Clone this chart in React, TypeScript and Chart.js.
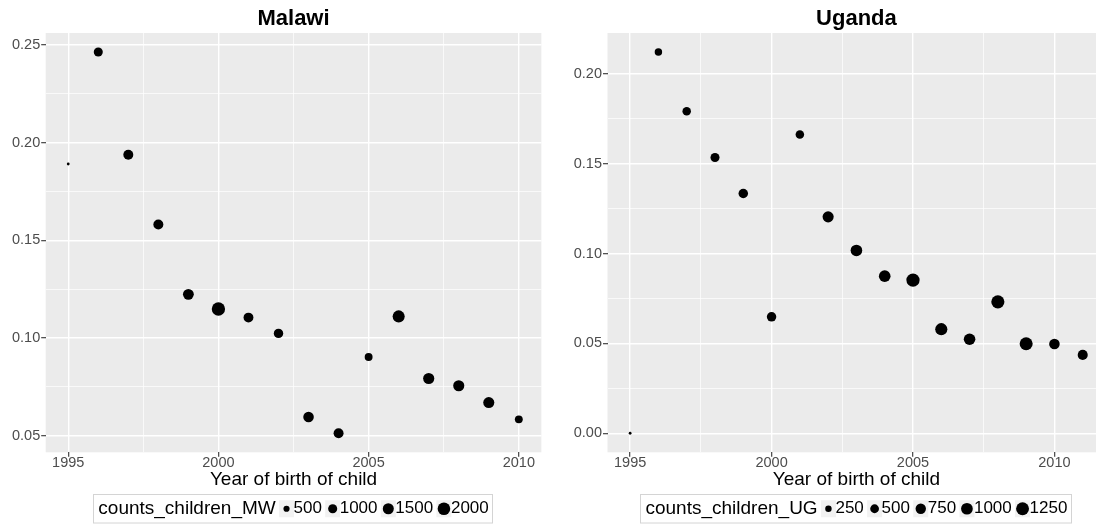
import React, { useEffect, useRef } from "react";
import { Chart, registerables } from "chart.js";

Chart.register(...registerables);

const FONT = '"Liberation Sans", Arial, Helvetica, sans-serif';

// ---------------- Data ----------------
const MW_TITLE = "Malawi";
const MW_YEARS = [1995, 1996, 1997, 1998, 1999, 2000, 2001, 2002, 2003, 2004, 2005, 2006, 2007, 2008, 2009, 2010];
const MW_RATE = [0.189, 0.2463, 0.1937, 0.158, 0.1223, 0.1148, 0.1104, 0.1023, 0.0595, 0.0512, 0.0902, 0.111, 0.0792, 0.0755, 0.0669, 0.0583];
const MW_COUNTS = [300, 990, 1210, 1220, 1440, 2250, 1190, 1080, 1360, 1210, 760, 1820, 1530, 1520, 1510, 760];
const MW_LEGEND_TITLE = "counts_children_MW";
const MW_LEGEND_BREAKS = [500, 1000, 1500, 2000];
const MW_Y_TICKS = [0.05, 0.1, 0.15, 0.2, 0.25];

const UG_TITLE = "Uganda";
const UG_YEARS = [1995, 1996, 1997, 1998, 1999, 2000, 2001, 2002, 2003, 2004, 2005, 2006, 2007, 2008, 2009, 2010, 2011];
const UG_RATE = [0.0, 0.2121, 0.1792, 0.1534, 0.1334, 0.0648, 0.1662, 0.1204, 0.1017, 0.0874, 0.0852, 0.0579, 0.0523, 0.0731, 0.0498, 0.0497, 0.0436];
const UG_COUNTS = [100, 342, 462, 539, 607, 600, 470, 879, 970, 980, 1340, 1086, 960, 1300, 1280, 777, 697];
const UG_LEGEND_TITLE = "counts_children_UG";
const UG_LEGEND_BREAKS = [250, 500, 750, 1000, 1250];
const UG_Y_TICKS = [0.0, 0.05, 0.1, 0.15, 0.2];

const X_TICKS = [1995, 2000, 2005, 2010];
const X_LABEL = "Year of birth of child";

// ---------------- Helpers ----------------
const D_MIN = 2.8;
const D_MAX = 13.3;

function makeDiam(counts: number[]) {
  const lo = Math.min(...counts);
  const hi = Math.max(...counts);
  return (c: number) => D_MIN + (D_MAX - D_MIN) * Math.sqrt(Math.max(0, (c - lo) / (hi - lo)));
}

function expand(vals: number[]): [number, number] {
  const lo = Math.min(...vals);
  const hi = Math.max(...vals);
  const e = (hi - lo) * 0.05;
  return [lo - e, hi + e];
}

function withMinors(majors: number[], min: number, max: number) {
  const step = majors[1] - majors[0];
  const all = [...majors, majors[0] - step / 2, ...majors.map((v) => v + step / 2)];
  return all.filter((v) => v >= min - 1e-9 && v <= max + 1e-9).sort((a, b) => a - b);
}

function isMajorOf(majors: number[]) {
  return (v: number) => majors.some((m) => Math.abs(m - v) < 1e-9);
}

const bgPlugin = {
  id: "panelBg",
  beforeDraw(chart: any) {
    const { ctx, chartArea } = chart;
    ctx.save();
    ctx.fillStyle = "#EBEBEB";
    ctx.fillRect(chartArea.left, chartArea.top, chartArea.right - chartArea.left, chartArea.bottom - chartArea.top);
    ctx.restore();
  },
};

function makeLegendPlugin(title: string, breaks: number[], diams: number[]) {
  return {
    id: "sizeLegend",
    afterDraw(chart: any) {
      const { ctx, chartArea } = chart;
      ctx.save();
      const titleFont = `19px ${FONT}`;
      const labelFont = `17px ${FONT}`;
      ctx.font = titleFont;
      const tw = ctx.measureText(title).width;
      ctx.font = labelFont;
      const lws = breaks.map((b) => ctx.measureText(String(b)).width);
      const GAP = 10.8;
      const KEYTEXT = 7;
      const PAD = 5;
      const contentW = tw + lws.reduce((a, w) => a + GAP + KEYTEXT + w, 0);
      const boxW = contentW + 2 * PAD;
      const cx = (chartArea.left + chartArea.right) / 2;
      const x0 = cx - boxW / 2;
      const top = 494;
      const h = 29.5;
      const cy = top + h / 2;
      ctx.fillStyle = "#FFFFFF";
      ctx.fillRect(x0, top, boxW, h);
      ctx.strokeStyle = "#D4D4D4";
      ctx.lineWidth = 1;
      ctx.strokeRect(Math.round(x0) + 0.5, top + 0.5, Math.round(boxW) - 1, h - 1);
      let x = x0 + PAD;
      ctx.textBaseline = "middle";
      ctx.textAlign = "left";
      ctx.fillStyle = "#000";
      ctx.font = titleFont;
      ctx.fillText(title, x, cy);
      x += tw;
      breaks.forEach((b, i) => {
        const kc = x + GAP;
        ctx.fillStyle = "#F2F2F2";
        ctx.fillRect(kc - 7.5, cy - 8.5, 15, 17);
        ctx.fillStyle = "#000";
        ctx.beginPath();
        ctx.arc(kc, cy, diams[i] / 2, 0, Math.PI * 2);
        ctx.fill();
        ctx.font = labelFont;
        ctx.fillText(String(b), kc + KEYTEXT, cy);
        x = kc + KEYTEXT + lws[i];
      });
      ctx.restore();
    },
  };
}

interface PanelSpec {
  title: string;
  years: number[];
  rate: number[];
  counts: number[];
  legendTitle: string;
  legendBreaks: number[];
  yTicks: number[];
  yAxisWidth: number;
  padRight: number;
}

function buildConfig(p: PanelSpec): any {
  const diam = makeDiam(p.counts);
  const [xMin, xMax] = expand(p.years);
  const [yMin, yMax] = expand(p.rate);
  const xAll = withMinors(X_TICKS, xMin, xMax);
  const yAll = withMinors(p.yTicks, yMin, yMax);
  const xMajor = isMajorOf(X_TICKS);
  const yMajor = isMajorOf(p.yTicks);

  const gridFor = (isMaj: (v: number) => boolean) => ({
    color: "#FFFFFF",
    lineWidth: (c: any) => (c.tick && isMaj(c.tick.value) ? 1.4 : 0.7),
    drawTicks: true,
    tickLength: 4.5,
    tickWidth: 1.1,
    tickColor: (c: any) => (c.tick && isMaj(c.tick.value) ? "#333333" : "rgba(0,0,0,0)"),
  });

  return {
    type: "bubble",
    data: {
      datasets: [
        {
          data: p.years.map((x, i) => ({ x, y: p.rate[i], r: diam(p.counts[i]) / 2 })),
          backgroundColor: "#000000",
          borderColor: "#000000",
          borderWidth: 0,
          hoverRadius: 0,
        },
      ],
    },
    plugins: [bgPlugin, makeLegendPlugin(p.legendTitle, p.legendBreaks, p.legendBreaks.map(diam))],
    options: {
      responsive: false,
      animation: false,
      events: [],
      layout: { padding: { left: 0, right: p.padRight, top: 0, bottom: 32.7 } },
      plugins: {
        legend: { display: false },
        tooltip: { enabled: false },
        title: {
          display: true,
          text: p.title,
          fullSize: false,
          color: "#000000",
          font: { family: FONT, size: 22, weight: "bold", lineHeight: 1.2 },
          padding: { top: 5.6, bottom: 1 },
        },
      },
      scales: {
        x: {
          type: "linear",
          min: xMin,
          max: xMax,
          bounds: "data",
          afterBuildTicks: (s: any) => {
            s.ticks = xAll.map((v) => ({ value: v }));
          },
          afterFit: (s: any) => {
            s.height = 40;
          },
          ticks: {
            autoSkip: false,
            maxRotation: 0,
            padding: -1.25,
            color: "#4D4D4D",
            font: { family: FONT, size: 14.5, lineHeight: 1 },
            callback: (v: number) => (xMajor(v) ? String(Math.round(v)) : ""),
          },
          grid: gridFor(xMajor),
          border: { display: false },
          title: {
            display: true,
            text: X_LABEL,
            color: "#000000",
            font: { family: FONT, size: 19, lineHeight: 1.2 },
            padding: { top: 0, bottom: 0.7 },
          },
        },
        y: {
          type: "linear",
          min: yMin,
          max: yMax,
          bounds: "data",
          afterBuildTicks: (s: any) => {
            s.ticks = yAll.map((v) => ({ value: v }));
          },
          afterFit: (s: any) => {
            s.width = p.yAxisWidth;
          },
          ticks: {
            autoSkip: false,
            padding: 1,
            color: "#4D4D4D",
            font: { family: FONT, size: 14.5, lineHeight: 1.2 },
            callback: (v: number) => (yMajor(v) ? v.toFixed(2) : ""),
          },
          grid: gridFor(yMajor),
          border: { display: false },
        },
      },
    },
  };
}

function Panel({ spec, left, width }: { spec: PanelSpec; left: number; width: number }) {
  const ref = useRef<HTMLCanvasElement>(null);
  useEffect(() => {
    const chart = new Chart(ref.current as HTMLCanvasElement, buildConfig(spec));
    return () => chart.destroy();
  }, []);
  return (
    <canvas
      ref={ref}
      width={width}
      height={525}
      style={{ position: "absolute", left, top: 0, width, height: 525, display: "block" }}
    />
  );
}

const MW_SPEC: PanelSpec = {
  title: MW_TITLE,
  years: MW_YEARS,
  rate: MW_RATE,
  counts: MW_COUNTS,
  legendTitle: MW_LEGEND_TITLE,
  legendBreaks: MW_LEGEND_BREAKS,
  yTicks: MW_Y_TICKS,
  yAxisWidth: 45.7,
  padRight: 5.3,
};

const UG_SPEC: PanelSpec = {
  title: UG_TITLE,
  years: UG_YEARS,
  rate: UG_RATE,
  counts: UG_COUNTS,
  legendTitle: UG_LEGEND_TITLE,
  legendBreaks: UG_LEGEND_BREAKS,
  yTicks: UG_Y_TICKS,
  yAxisWidth: 59.5,
  padRight: 6.5,
};

export default function App() {
  return (
    <div
      style={{
        position: "absolute",
        left: 0,
        top: 0,
        width: 1096,
        height: 525,
        overflow: "hidden",
        background: "#FFFFFF",
      }}
    >
      <Panel spec={MW_SPEC} left={0} width={548} />
      <Panel spec={UG_SPEC} left={548} width={564} />
    </div>
  );
}
